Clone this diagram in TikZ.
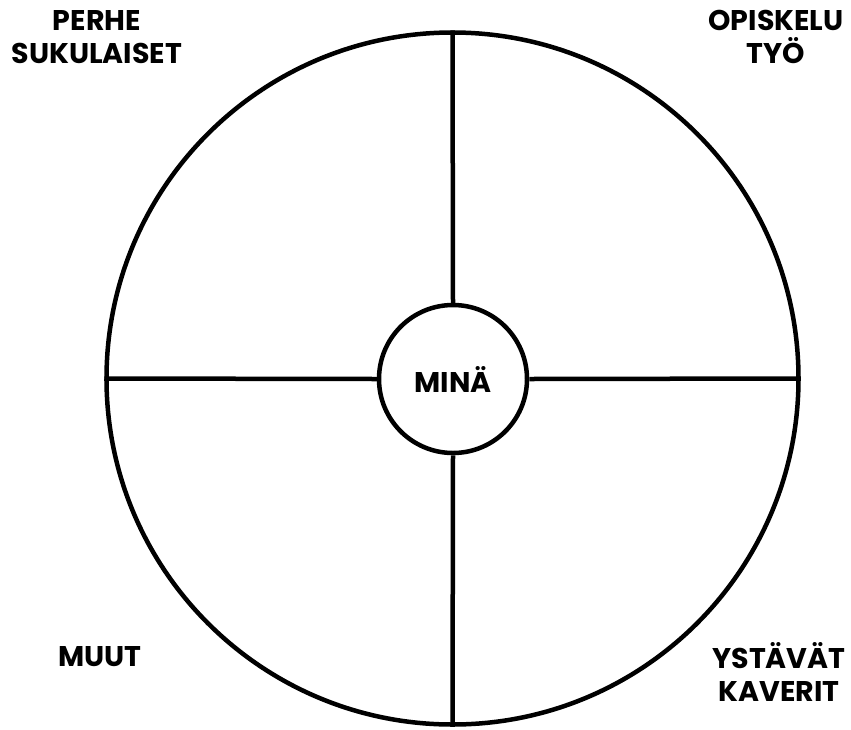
\documentclass[tikz,border=0pt]{standalone}
\usepackage{fontspec}
\setmainfont{Poppins}[BoldFont={* Bold}]
\begin{document}
\begin{tikzpicture}[x=1pt,y=-1pt,
  ring/.style={draw=black,line width=4.5pt,circle,inner sep=0pt},
  spoke/.style={draw=black,line width=4.5pt},
  lbl/.style={font=\fontsize{28.5}{33}\selectfont\bfseries,align=center,inner sep=0pt,text depth=0pt}]
\useasboundingbox (0,0) rectangle (851,729);
\fill[white] (0,0) rectangle (851,729);
\node[ring,minimum size=692pt] (big) at (452.5,378.5) {};
\node[ring,minimum size=148pt,fill=white] (me) at (453,379) {};
\node[lbl] at (me.center) {MINÄ};
\draw[spoke] (big.north) -- (me.north);
\draw[spoke] (me.south) -- (big.south);
\draw[spoke] (big.west) -- (me.west);
\draw[spoke] (me.east) -- (big.east);
\node[lbl,anchor=center] (fam) at (97,37) {PERHE\\SUKULAISET};
\node[lbl,anchor=center] (work) at (776,37) {OPISKELU\\TYÖ};
\node[lbl,anchor=center] (other) at (100,656) {MUUT};
\node[lbl,anchor=center] (friends) at (779,672) {YSTÄVÄT\\KAVERIT};
\end{tikzpicture}
\end{document}
